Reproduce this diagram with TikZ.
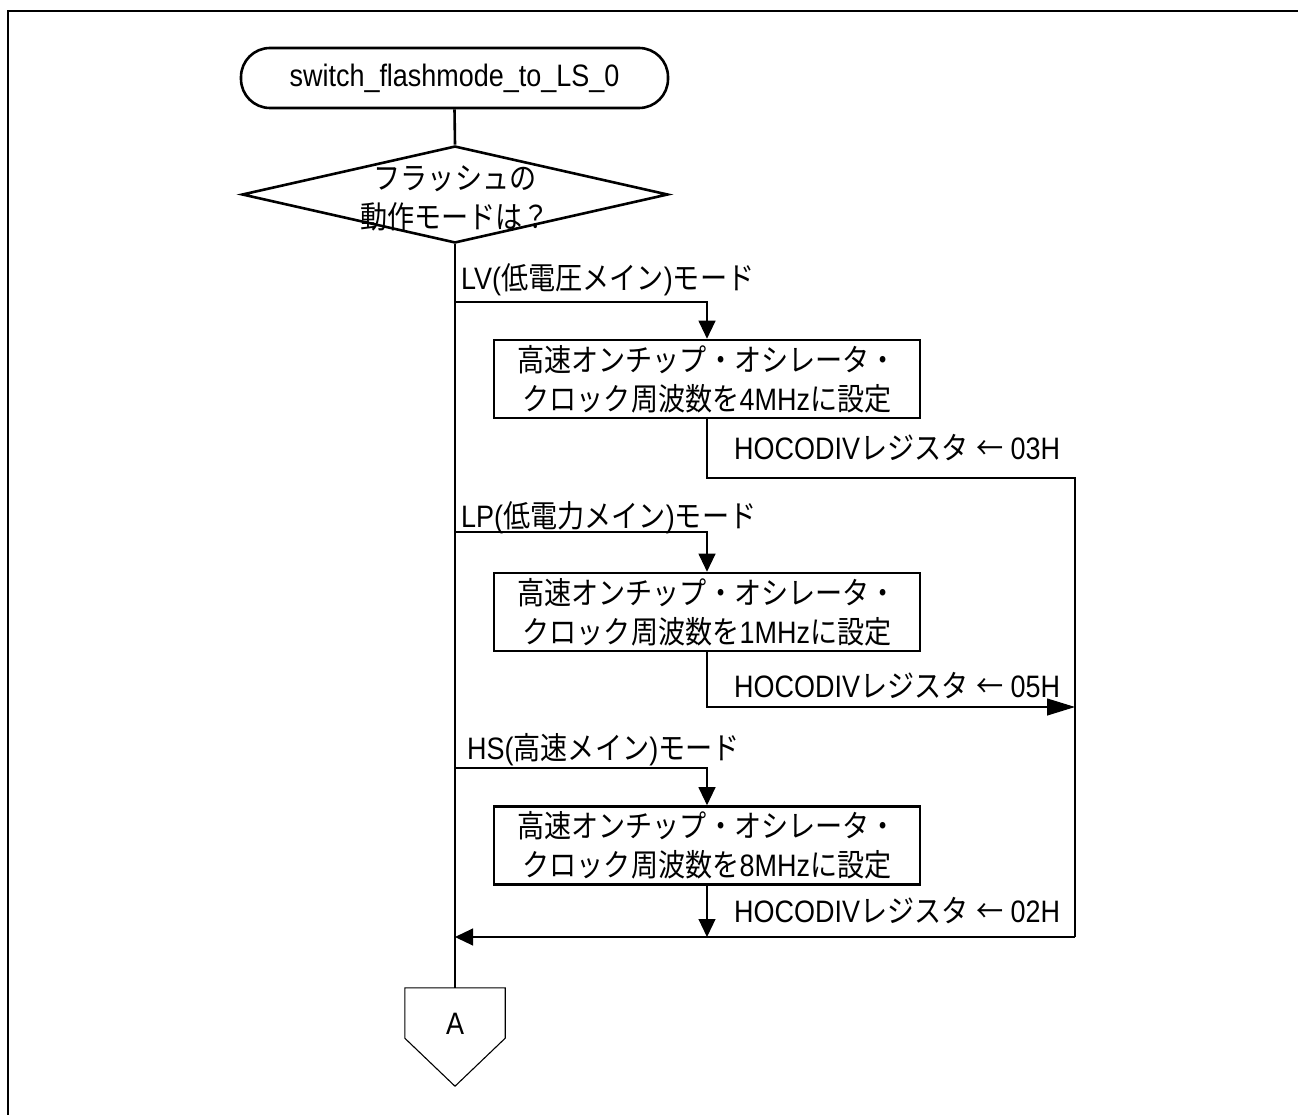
\documentclass[tikz,border=0pt]{standalone}
\usepackage{fontspec}
\setmainfont{Liberation Sans}[FakeStretch=0.87]
\newfontfamily\jpfont{Noto Sans CJK JP}[FakeStretch=0.875]
\newcommand\J[1]{{\jpfont #1}}
\usetikzlibrary{shapes.geometric,arrows.meta,calc}
\begin{document}
\begin{tikzpicture}[x=1pt,y=-1pt,
  every node/.style={font=\fontsize{31pt}{39pt}\selectfont, inner sep=0pt},
  thickline/.style={line width=2.6pt},
  thinline/.style={line width=1.1pt},
  procbox/.style={draw, line width=2.6pt, minimum width=426pt, minimum height=78pt, align=center},
  arr/.style={-{Triangle[length=18pt,width=17pt]}},
  bigarr/.style={-{Triangle[length=28pt,width=17pt]}},
]
\useasboundingbox (0,0) rectangle (1298,1115);
\draw[line width=2.5pt] (8,1115) -- (8,11) -- (1298,11);

% start terminal
\node[draw, thickline, rounded corners=29pt, minimum width=427pt, minimum height=60pt] (start) at (454.5,78) {switch\_flashmode\_to\_LS\_0};

% decision
\node[draw, diamond, thickline, aspect=4.4, minimum width=426pt, minimum height=97pt] (dec) at (455,194.5) {};
\node[align=center] (dectext) at (455,198) {\J{フラッシュの}\\\J{動作モードは？}};

% process boxes
\node[procbox] (p1) at (707,379) {\J{高速オンチップ・オシレータ・}\\\J{クロック周波数を}4MHz\J{に設定}};
\node[procbox] (p2) at (707,612) {\J{高速オンチップ・オシレータ・}\\\J{クロック周波数を}1MHz\J{に設定}};
\node[procbox] (p3) at (707,845.5) {\J{高速オンチップ・オシレータ・}\\\J{クロック周波数を}8MHz\J{に設定}};

% off-page connector
\node[minimum width=100pt, minimum height=50pt] (Abox) at (455,1013) {};
\draw[thinline] (Abox.north west) -- (Abox.north east) -- (Abox.south east) -- ($(Abox.south)+(0,48)$) -- (Abox.south west) -- cycle;
\node (Alab) at (455,1024) {A};

% coordinates
\coordinate (b1) at (455,302);
\coordinate (b2) at (455,532);
\coordinate (b3) at (455,768);
\coordinate (bus1) at (1075,478);
\coordinate (bus2) at (1075,707);
\coordinate (mr) at (1075,937);
\coordinate (ml) at (455,937);

% main line
\draw[thickline] (start.south) -- (dec.north);
\draw[thickline] (dec.south) -- (Abox.north);

% branches
\draw[thinline, arr] (b1) -| (p1.north);
\draw[thinline, arr] (b2) -| (p2.north);
\draw[thinline, arr] (b3) -| (p3.north);

% returns
\draw[thinline] (p1.south) |- (bus1) -- (mr);
\draw[thinline, bigarr] (p2.south) |- (bus2);
\draw[thinline, arr] (p3.south) -- (p3.south |- ml);
\draw[thinline, arr] (mr) -- (ml);

% labels
\node[anchor=west] (l1) at (461,280) {LV(\J{低電圧メイン})\J{モード}};
\node[anchor=west] (l2) at (461,518) {LP(\J{低電力メイン})\J{モード}};
\node[anchor=west] (l3) at (467,750) {HS(\J{高速メイン})\J{モード}};

\node[anchor=west] (r1) at (734,448) {HOCODIV\J{レジスタ} \J{←} 03H};
\node[anchor=west] (r2) at (734,686) {HOCODIV\J{レジスタ} \J{←} 05H};
\node[anchor=west] (r3) at (734,911) {HOCODIV\J{レジスタ} \J{←} 02H};
\end{tikzpicture}
\end{document}
